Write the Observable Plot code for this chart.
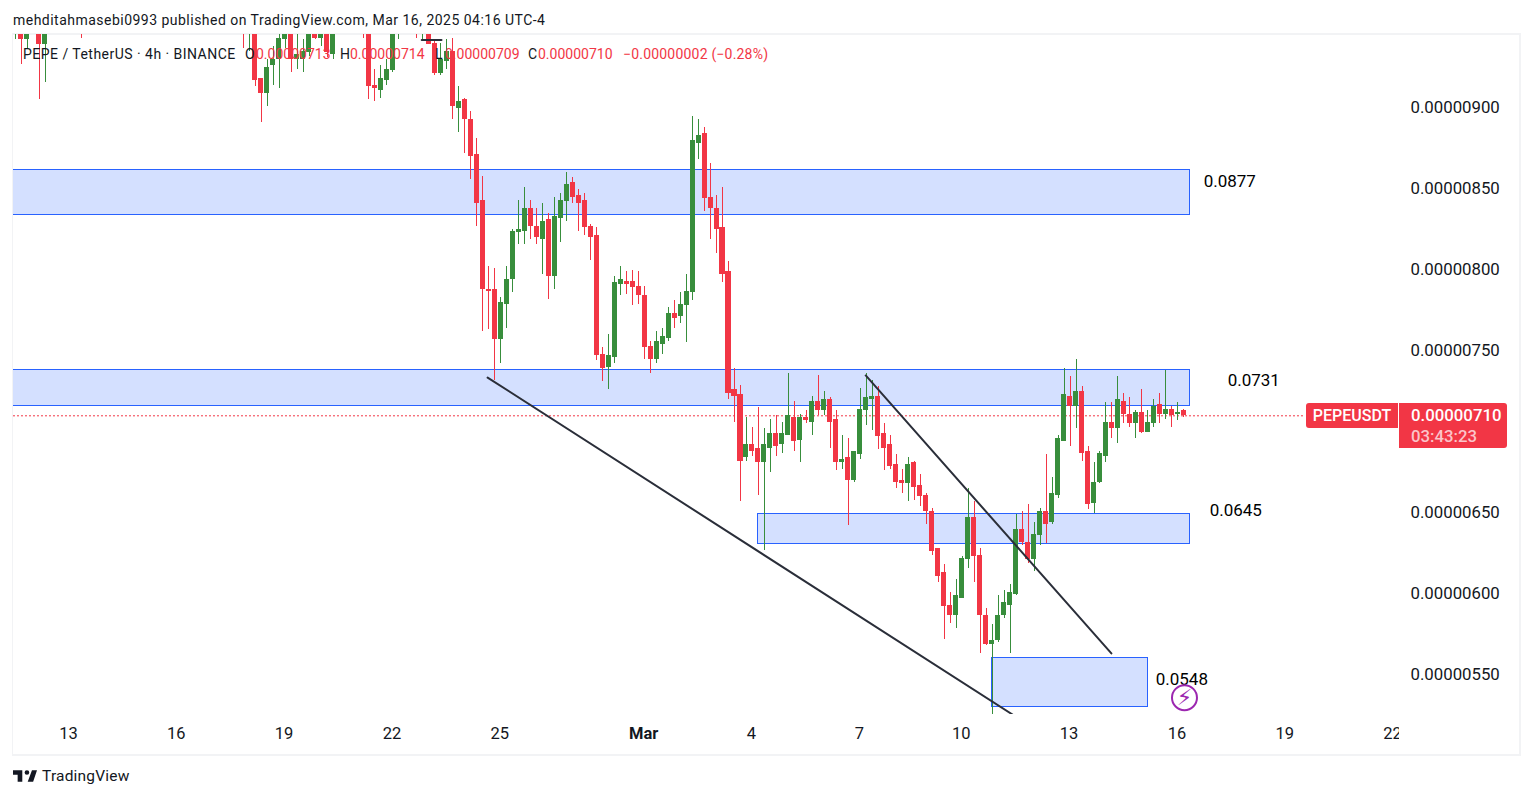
<!DOCTYPE html>
<html>
<head>
<meta charset="utf-8">
<script src="https://cdn.jsdelivr.net/npm/d3@7"></script>
<script src="https://cdn.jsdelivr.net/npm/@observablehq/plot@0.6"></script>
<style>
  html, body { margin: 0; padding: 0; background: #fff; width: 1533px; height: 798px; overflow: hidden; }
  body { position: relative; font-family: Roboto, sans-serif; color: #131722; }
  .abs { position: absolute; white-space: pre; }
  #pane { position: absolute; left: 12px; top: 33px; width: 1506px; height: 719px;
          border: 2px solid #f2f3f5; border-left-width: 1px; }
  #chart { position: absolute; left: 0; top: 34px; }
  .red { color: #f23645; }
  .tag { position: absolute; background: #f23645; color: #fff; font-weight: 500; }
</style>
</head>
<body>
<div id="pane"></div>
<div id="chart"></div>
<div class="abs" style="left:13px;top:12px;font-size:14px;letter-spacing:.48px">mehditahmasebi0993 published on TradingView.com, Mar 16, 2025 04:16 UTC-4</div>
<div class="abs" style="left:23px;top:46px;font-size:14px;letter-spacing:.47px">PEPE / TetherUS · 4h · BINANCE</div>
<div class="abs" style="left:245px;top:46px;font-size:14px">O<span class="red" style="position:absolute;left:11px">0.00000713</span></div>
<div class="abs" style="left:340px;top:46px;font-size:14px">H<span class="red" style="position:absolute;left:10px">0.00000714</span></div>
<div class="abs" style="left:435px;top:46px;font-size:14px">L<span class="red" style="position:absolute;left:10px">0.00000709</span></div>
<div class="abs" style="left:528px;top:46px;font-size:14px">C<span class="red" style="position:absolute;left:10px">0.00000710</span></div>
<div class="abs red" style="left:623px;top:46px;font-size:14px;letter-spacing:.2px">−0.00000002 (−0.28%)</div>
<div id="axiscut" class="abs" style="left:1399px;top:720px;width:11px;height:28px;background:#fff"></div>
<div class="tag" style="left:1306px;top:403px;width:92px;height:25px;line-height:25px;font-size:16px;text-align:center;border-radius:3px 0 0 3px">PEPEUSDT</div>
<div class="tag" style="left:1399px;top:403px;width:96px;height:45px;padding-left:12px;border-radius:0 3px 3px 0">
  <div style="font-size:16.8px;line-height:25px">0.00000710</div>
  <div style="font-size:16.8px;line-height:17px;color:#fbc4c9">03:43:23</div>
</div>
<svg class="abs" style="left:13px;top:769px" width="24" height="14" viewBox="2 6 31 15"><path fill="#131722" d="M14 6H2v6h6v9h6V6zm14 15h-7l5.5-15H33l-5 15zm-8-9a3 3 0 1 0 0-6 3 3 0 0 0 0 6z"/></svg>
<div class="abs" style="left:42px;top:767px;font-size:15.5px;letter-spacing:.2px;color:#131722">TradingView</div>
<script>
// Prices are in units of 0.00000001 USDT. Slots are 4-hour bars counted from Feb 13.
const slots = [-9,-8,-7,-5,-4,2,
  29,30,31,32,33,34,35,36,37,38,39,40,41,42,43,44,
  49,50,51,52,53,54,55,58,59,60,61,62,63,64,65,66,67,
  ...d3.range(68, 187)];
const opens = [
  950,950,942,950,939,955,955,950,955,918,
  909,926,930,942,950,930,930,934,950,943,
  950,933,955,955,914,911,917,923,950,955,
  950,950,940,921,929,935,900,905,893,
  871,843,788,788,757,779,794,823,824,838,
  827,819,831,796,832,842,854,846,843,827,
  821,748,740,746,791,793,793,790,784,753,
  745,754,758,773,771,778,786,878,884,845,
  838,826,799,726,723,684,692,690,681,690,
  699,692,698,709,695,709,706,719,713,720,
  708,681,684,670,686,713,720,722,699,692,
  680,670,668,681,667,661,651,628,613,593,
  587,597,621,647,624,587,569,571,587,593,
  600,640,632,621,636,651,644,661,694,722,
  716,725,688,656,669,685,706,702,719,711,
  705,712,700,705,717,711,714,711,713];
const highs = [
  960,955,955,955,955,958,958,958,960,918,
  930,938,950,955,955,950,942,955,955,955,
  955,955,958,960,924,926,930,960,958,958,
  958,955,942,940,942,943,913,906,898,
  881,858,802,801,783,802,825,843,851,843,
  838,841,835,845,847,860,857,850,847,828,
  826,752,760,796,802,799,800,799,790,756,
  762,764,777,781,786,797,895,893,888,866,
  846,851,805,739,729,709,703,715,702,708,
  710,706,736,719,711,713,722,735,725,721,
  713,698,696,688,727,736,732,728,705,698,
  686,677,684,682,674,662,653,628,618,601,
  609,623,665,657,628,591,581,599,602,606,
  649,651,655,644,653,686,672,698,739,734,
  745,728,691,681,688,718,718,734,724,721,
  713,726,713,720,724,738,716,718,714];
const lows = [
  942,927,936,905,916,943,937,935,913,891,
  901,914,912,937,922,924,922,932,942,938,
  931,930,943,905,904,906,914,922,942,943,
  942,939,920,920,924,893,885,872,856,
  827,762,763,732,742,764,786,816,816,819,
  816,797,782,788,817,830,841,824,821,806,
  744,731,726,742,784,785,778,779,745,736,
  742,748,756,764,767,755,781,868,836,819,
  810,792,720,706,657,682,685,661,627,675,
  685,687,698,688,681,705,698,710,710,690,
  676,677,642,669,683,704,701,689,676,677,
  665,662,657,658,654,643,624,607,572,582,
  579,597,616,607,563,568,525,570,585,563,
  599,630,619,614,630,631,643,659,694,691,
  702,682,652,650,668,681,696,693,705,703,
  696,699,700,703,705,708,703,707,709];
const closes = [
  955,942,950,939,950,950,950,955,917,909,
  925,930,943,950,930,933,935,950,943,950,
  934,950,950,913,912,918,924,955,955,950,
  955,939,921,930,935,901,904,893,870,
  841,788,787,757,780,794,824,825,838,827,
  820,830,796,833,843,853,845,841,826,820,
  747,739,747,792,794,791,789,784,752,745,
  756,759,773,770,779,787,880,883,844,838,
  825,797,724,722,682,692,688,681,692,699,
  691,699,710,694,709,707,719,713,720,706,
  681,683,670,688,714,721,722,697,690,679,
  669,668,680,666,660,651,626,611,592,587,
  599,622,647,623,587,569,571,587,595,601,
  640,632,621,637,651,643,662,696,723,716,
  725,687,655,669,687,706,702,720,711,705,
  712,700,706,716,711,714,710,712,710];

const tickSlots  = [0,18,36,54,72,96,114,132,149,167,185,203,221];
const tickLabels = ["13","16","19","22","25","Mar","4","7","10","13","16","19","22"];
const priceTicks = [900,850,800,750,650,600,550];

const zoneStart = [-12,-12,114.85,153.9];
const zoneEnd   = [187.1,187.1,187.1,180];
const zoneHigh  = [862,738.2,649.3,560.8];
const zoneLow   = [833.9,716,630.9,530.5];
const zoneLabels = ["0.0877","0.0731","0.0645","0.0548"];
const zoneLabelSlots = [189.3,193.3,190.3,181.3];
const zoneLabelPrices = [854.5,731.7,651.3,547];

const trendIds    = ["a","a","b","b","c","c"];
const trendSlots  = [69.8,157.4,132.9,173.9,58.8,62.1];
const trendPrices = [733.6,525.6,734.9,563.3,942,942];

const lastPrice = 710;
const paneStart = -9.33, lastLineEnd = 206.3;
const alertSlot = 186.1, alertPrice = 536;
const alertGlyph = "\u26A1\uFE0E";

const candles = slots.map((s,i)=>({s, o:opens[i], h:highs[i], l:lows[i], c:closes[i]}));
const zones = zoneLabels.map((t,i)=>({t, x1:zoneStart[i], x2:zoneEnd[i], y1:zoneLow[i], y2:zoneHigh[i]}));
const labels = zoneLabels.map((t,i)=>({t, x:zoneLabelSlots[i], y:zoneLabelPrices[i]}));
const trends = trendIds.map((id,i)=>({id, x:trendSlots[i], y:trendPrices[i]}));

const UP = "#388e3c", DOWN = "#f23645", INK = "#131722";
const colour = d => d.c >= d.o ? UP : DOWN;
const labelOf = v => tickLabels[tickSlots.indexOf(v)];

const plot = Plot.plot({
  width: 1533, height: 720,
  marginTop: 0, marginLeft: 13, marginRight: 134, marginBottom: 40,
  style: {background: "transparent", fontFamily: "Roboto, sans-serif"},
  x: {domain: [0,221], range: [68.9,1393.1]},
  y: {domain: [550,900], range: [640.5,73.5]},
  marks: [
    Plot.rect(zones, {x1:"x1", x2:"x2", y1:"y1", y2:"y2", fill:"#d4e0ff", stroke:"#2962ff", strokeWidth:1, clip:true, shapeRendering:"crispEdges"}),
    Plot.ruleY([lastPrice], {x1:paneStart, x2:lastLineEnd, stroke:DOWN, strokeWidth:1, strokeDasharray:"2,2"}),
    Plot.ruleX(candles, {x:"s", y1:"l", y2:"h", stroke:colour, strokeWidth:1, clip:true, shapeRendering:"crispEdges"}),
    Plot.rect(candles, {x1:d=>d.s-0.42, x2:d=>d.s+0.42, y1:"o", y2:"c", fill:colour, clip:true, shapeRendering:"crispEdges"}),
    Plot.line(trends, {x:"x", y:"y", z:"id", stroke:"#2a2e39", strokeWidth:2, clip:true}),
    Plot.text(labels, {x:"x", y:"y", text:"t", textAnchor:"start", fontSize:17, fill:"#000"}),
    Plot.dot([0], {x:alertSlot, y:alertPrice, r:12.5, stroke:"#9c27b0", strokeWidth:2, fill:"none"}),
    Plot.text([alertGlyph], {x:alertSlot, y:alertPrice, fontSize:22, fill:"#9c27b0", fontFamily:"DejaVu Sans"}),
    Plot.axisX(tickSlots.filter(v=>labelOf(v)!=="Mar"), {tickSize:0, tickPadding:13, dx:-1, fontSize:16.5, fill:INK, tickFormat:labelOf, label:null}),
    Plot.axisX(tickSlots.filter(v=>labelOf(v)==="Mar"), {tickSize:0, tickPadding:13, dx:-1, fontSize:16.5, fontWeight:"bold", fill:INK, tickFormat:labelOf, label:null}),
    Plot.axisY(priceTicks, {anchor:"right", tickSize:0, tickPadding:11, fontSize:16.8, fill:INK, textAnchor:"start", tickFormat:d=>(d/1e8).toFixed(8), label:null})
  ]
});
document.getElementById("chart").appendChild(plot);
</script>
</body>
</html>
